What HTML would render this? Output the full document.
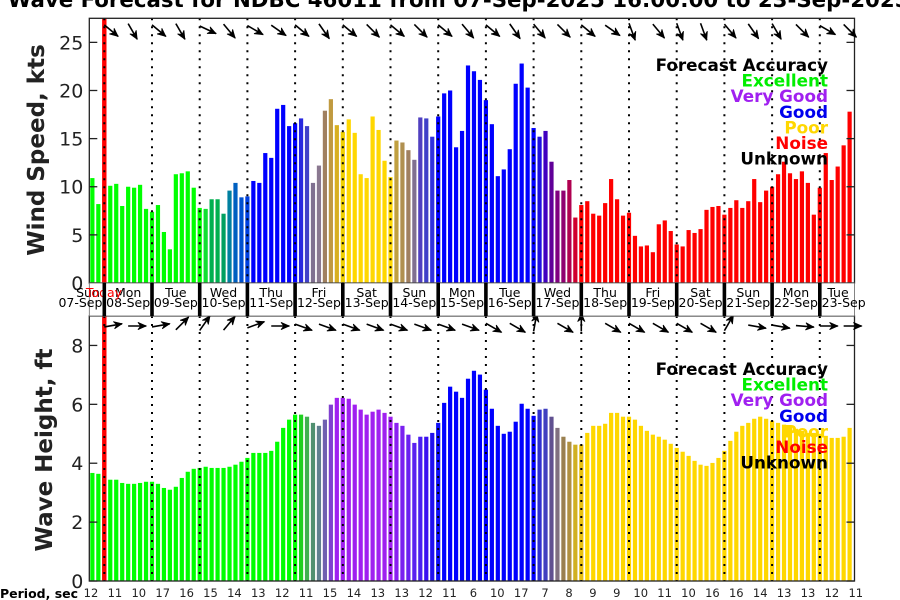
<!DOCTYPE html>
<html><head><meta charset="utf-8"><style>
html,body{margin:0;padding:0;background:#fff;}
svg{display:block;font-family:"DejaVu Sans","Liberation Sans",sans-serif;}
</style></head><body>
<svg id="chart" width="900" height="600" viewBox="0 0 900 600" xmlns="http://www.w3.org/2000/svg">
<text x="468" y="7" text-anchor="middle" font-size="21.3" font-weight="bold">Wind &amp; Wave Forecast for NDBC 46011 from 07-Sep-2025 16:00:00 to 23-Sep-2025 23:00:00</text>
<text transform="translate(44,150) rotate(-90)" text-anchor="middle" font-size="23" font-weight="bold" fill="#222">Wind Speed, kts</text>
<text transform="translate(52,450) rotate(-90)" text-anchor="middle" font-size="23" font-weight="bold" fill="#222">Wave Height, ft</text>
<text x="0" y="598" font-size="12.5" font-weight="bold">Period, sec</text>
<g id="g"></g>
</svg>
<script>
// ---- data ----
const windSpeed = [10.9,8.2,10.0,10.1,10.3,8.0,10.0,9.9,10.2,7.7,7.4,8.1,5.3,3.5,11.3,11.4,11.6,9.9,7.8,7.7,8.7,8.7,7.2,9.6,10.4,8.9,9.0,10.6,10.4,13.5,13.0,18.1,18.5,16.3,16.6,17.1,16.3,10.4,12.2,17.9,19.1,16.4,15.7,17.0,15.6,11.3,10.9,17.3,15.9,12.7,11.0,14.8,14.6,13.8,12.8,17.2,17.1,15.2,17.3,19.7,20.0,14.1,15.8,22.6,22.0,21.1,19.0,16.5,11.1,11.8,13.9,20.7,22.8,20.3,16.1,15.2,15.8,12.6,9.6,9.6,10.7,6.8,8.1,8.5,7.2,7.0,8.3,10.8,8.7,7.0,7.3,4.9,3.8,3.9,3.2,6.1,6.5,5.4,4.0,3.8,5.5,5.2,5.6,7.6,7.9,8.0,7.1,7.8,8.6,7.8,8.5,10.8,8.4,9.6,10.0,11.3,12.6,11.4,10.8,11.6,10.4,7.1,9.9,13.5,10.7,12.1,14.3,17.8];
const waveHeight = [3.67,3.64,3.5,3.44,3.44,3.33,3.30,3.30,3.33,3.37,3.37,3.30,3.16,3.10,3.20,3.50,3.71,3.81,3.84,3.88,3.84,3.84,3.84,3.88,3.95,4.05,4.18,4.35,4.35,4.35,4.42,4.73,5.20,5.48,5.65,5.65,5.58,5.37,5.27,5.48,5.99,6.22,6.22,6.19,5.99,5.82,5.65,5.75,5.82,5.71,5.58,5.37,5.27,4.97,4.69,4.90,4.90,5.03,5.37,6.05,6.60,6.43,6.22,6.87,7.14,7.01,6.50,5.85,5.27,5.00,5.07,5.41,6.02,5.85,5.61,5.82,5.85,5.58,5.20,4.90,4.73,4.63,4.63,5.03,5.27,5.27,5.34,5.71,5.71,5.58,5.58,5.48,5.27,5.10,4.97,4.90,4.80,4.66,4.52,4.39,4.25,4.08,3.95,3.91,4.01,4.18,4.42,4.76,5.07,5.27,5.37,5.51,5.58,5.51,5.44,5.37,5.31,5.24,5.17,5.10,5.03,5.03,5.00,4.93,4.86,4.86,4.90,5.20];
const windAccuracy = (function(){const a=[];const special={19:'#10e030',20:'#00b050',21:'#00b050',22:'#00a060',23:'#0080a0',24:'#0060c0',25:'#0050d0',26:'#0040e0',35:'#2828e0',36:'#4040c8',37:'#807090',38:'#8a7890',39:'#a08060',40:'#c09a40',41:'#d8b020',42:'#f0d000',51:'#c0a040',52:'#b09050',53:'#a08060',54:'#807090',55:'#5040c0',56:'#4040c8',57:'#3030e0',75:'#2010e0',76:'#4000c0',77:'#600098',78:'#800080',79:'#900070',80:'#b00050',81:'#d00030'};
for(let i=0;i<128;i++){let c; if(special[i])c=special[i]; else if(i<19)c='#00ff00'; else if(i<35)c='#0000ff'; else if(i<51)c='#ffd700'; else if(i<75)c='#0000ff'; else c='#ff0000'; a.push(c);} return a;})();
const waveAccuracy = (function(){const a=[];const special={35:'#20d020',36:'#40b050',37:'#509070',38:'#608090',39:'#7060b0',40:'#8040d0',51:'#8a20f0',52:'#7a20f0',53:'#6a20f0',54:'#5a20f0',55:'#4a20f0',56:'#3a10f0',57:'#2010f0',58:'#1010f8',75:'#3030d0',76:'#4040c0',77:'#605090',78:'#807080',79:'#9a8050',80:'#b09040',81:'#d0b020',82:'#e8c010'};
for(let i=0;i<128;i++){let c; if(special[i])c=special[i]; else if(i<35)c='#00ff00'; else if(i<51)c='#a020f0'; else if(i<75)c='#0000ff'; else c='#ffd700'; a.push(c);} return a;})();
const dayNames = ['Sun','Mon','Tue','Wed','Thu','Fri','Sat','Sun','Mon','Tue','Wed','Thu','Fri','Sat','Sun','Mon','Tue'];
const dateLabels = ['07-Sep','08-Sep','09-Sep','10-Sep','11-Sep','12-Sep','13-Sep','14-Sep','15-Sep','16-Sep','17-Sep','18-Sep','19-Sep','20-Sep','21-Sep','22-Sep','23-Sep'];
const periods = [12,11,10,17,16,15,14,13,12,11,15,14,13,13,12,11,6,10,17,7,8,9,9,10,11,10,16,16,14,13,13,12,11];
const windDir = [-40,-60,-40,-60,-25,-50,-30,-35,-40,-55,-40,-45,-40,-45,-40,-50,-40,-55,-50,-45,-40,-35,-70,-50,-70,-70,-50,-55,-60,-45,-30,-45];
const waveDir = [10,0,10,45,55,50,20,0,-20,-20,-20,-20,-20,-20,-20,-20,-30,-30,80,-30,90,-30,-30,-30,-30,-30,60,-10,-10,-5,0,0];
const windTicks = [0,5,10,15,20,25];
const waveTicks = [0,2,4,6,8];

// ---- layout ----
const L=89.3, R=854.5, T0=104.3, PX_H=47.7/24;
const NS='http://www.w3.org/2000/svg';
const g=document.getElementById('g');
function el(tag,attrs,parent){const e=document.createElementNS(NS,tag);for(const k in attrs)e.setAttribute(k,attrs[k]);(parent||g).appendChild(e);return e;}
function xT(h){return T0+h*PX_H;}
function barX(i){return xT((i-2)*3);}

function panel(top,bottom,ymax,values,colors,ticks,dirs,name){
  const y=v=>bottom-(v/ymax)*(bottom-top);
  const pg=el('g',{});
  
  
  values.forEach((v,i)=>{
    const b=el('rect',{x:barX(i)-2.1,y:y(v),width:4.2,height:bottom-y(v),fill:colors[i]},pg);
    
    
  });
  for(let k=0;k<16;k++){
    const x=xT(24*k);
    const d=el('line',{x1:x,y1:top,x2:x,y2:bottom,stroke:'#000','stroke-width':2,'stroke-dasharray':'2,6'},pg);
    
    
  }
  const rl=el('rect',{x:T0-2.2,y:top,width:4.4,height:bottom-top,fill:'#ff0000'},pg);
  
  
  el('line',{x1:T0,y1:top,x2:T0,y2:bottom,stroke:'#000','stroke-width':2,'stroke-dasharray':'2,6'},pg);
  ticks.forEach(t=>{
    const yy=y(t);
    el('line',{x1:L,y1:yy,x2:L+8,y2:yy,stroke:'#222','stroke-width':1.3},pg);
    el('line',{x1:R-8,y1:yy,x2:R,y2:yy,stroke:'#222','stroke-width':1.3},pg);
    const tl=el('text',{x:L-6,y:yy+7,'text-anchor':'end','font-size':19,fill:'#222'},pg);
    tl.textContent=t;
    
    
  });
  const fr=el('rect',{x:L,y:top,width:R-L,height:bottom-top,fill:'none',stroke:'#222','stroke-width':1.3},pg);
  
  
  dirs.forEach((a,k)=>{
    const r=a*Math.PI/180, len=18;
    const x0=T0+23.85*k, y0=top+10+ (Math.sin(r)*len)/2*0.6;
    const x1=x0+len*Math.cos(r), y1=y0-len*Math.sin(r);
    const ag=el('g',{},pg);
    
    
    el('line',{x1:x0,y1:y0,x2:x1,y2:y1,stroke:'#000','stroke-width':1.6},ag);
    const h=9, s=0.42;
    const bx1=x1-h*Math.cos(r-s), by1=y1+h*Math.sin(r-s);
    const bx2=x1-h*Math.cos(r+s), by2=y1+h*Math.sin(r+s);
    const mx=x1-h*0.6*Math.cos(r), my=y1+h*0.6*Math.sin(r);
    el('path',{d:`M${x1},${y1} L${bx1},${by1} L${mx},${my} L${bx2},${by2} Z`,fill:'#000',stroke:'#000','stroke-width':0.8},ag);
  });
  // legend
  const lx=828, items=[['Forecast Accuracy','#000'],['Excellent','#00ee00'],['Very Good','#a020f0'],['Good','#0000ee'],['Poor','#ffd700'],['Noise','#ff0000'],['Unknown','#000']];
  const ly=name==='wind'?71:375;
  items.forEach((it,j)=>{
    const t=el('text',{x:lx,y:ly+j*15.6,'text-anchor':'end','font-size':16.8,'font-weight':'bold',fill:it[1]},pg);
    t.textContent=it[0];
    
    
  });
}
panel(18.3,283,27.5,windSpeed,windAccuracy,windTicks,windDir,'wind');
panel(316,581,9.0,waveHeight,waveAccuracy,waveTicks,waveDir,'wave');

// day label strip
for(let d=0;d<17;d++){
  const xs=Math.max(L,xT(24*(d-1))), xe=Math.min(R,xT(24*d));
  const bx=el('rect',{x:xs,y:283,width:xe-xs,height:33,fill:'#fff',stroke:'#666','stroke-width':0.8});
  
  
}
for(let d=0;d<17;d++){
  const mid=xT(24*(d-1)+12);
  const cx=d===0?88:(d===16?838:mid);
  const dn=el('text',{x:cx,y:297,'text-anchor':'middle','font-size':12.5,fill:'#000'});
  dn.textContent=dayNames[d];
  
  
  const dt=el('text',{x:mid,y:307,'text-anchor':'middle','font-size':12.5,fill:'#000'});
  dt.textContent=dateLabels[d];
  
  
}
const today=el('text',{x:104,y:297,'text-anchor':'middle','font-size':12.5,fill:'#ff0000'});
today.textContent='Today';


for(let k=0;k<16;k++){
  const x=xT(24*k);
  const sb=el('rect',{x:x-1.8,y:283,width:3.6,height:33,fill:'#000'});
  
  
}
// periods
periods.forEach((p,k)=>{
  const t=el('text',{x:91+23.9*k,y:597,'text-anchor':'middle','font-size':11.5,fill:'#222'});
  t.textContent=p;
  
  
});
</script>
</body></html>
